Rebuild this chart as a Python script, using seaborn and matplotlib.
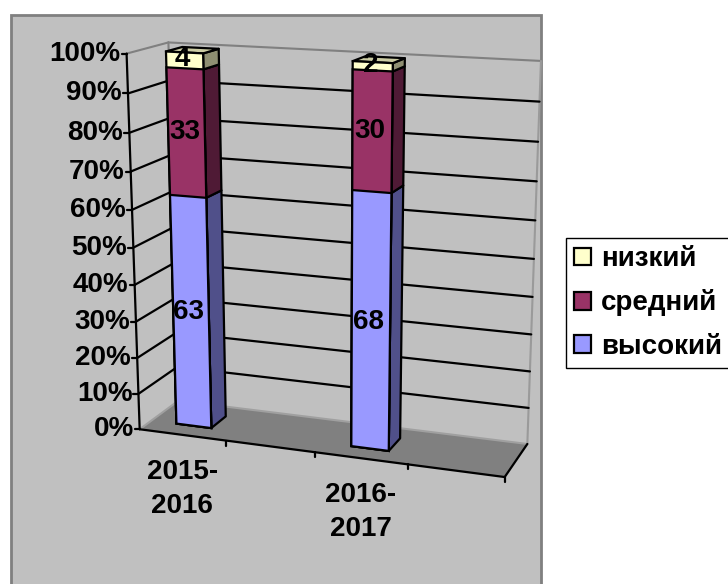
import numpy as np
import pandas as pd
import seaborn as sns
import matplotlib.pyplot as plt
from matplotlib.patches import Polygon, Rectangle
from matplotlib.transforms import Transform, IdentityTransform

periods = ['2015-\n2016', '2016-\n2017']
vysokiy = [63, 68]
sredniy = [33, 30]
nizkiy = [4, 2]
level_names = ['высокий', 'средний', 'низкий']
y_ticks = [0, 10, 20, 30, 40, 50, 60, 70, 80, 90, 100]

W, H = 728, 584
X0, X1 = -0.25, 1.755
BAR_Z0, BAR_Z1 = 0.3, 0.7
FONT = 20

# pixel positions of the box corners, used only to fit the fake 3d view
corners = [
    ((X0, 100, 0), (127, 54)), ((X0, 0, 0), (139, 428)), ((X1, 0, 0), (505, 478)),
    ((X1, 0, 1), (527, 443)), ((X1, 100, 1), (541, 61)), ((X0, 100, 1), (168, 42)),
    ((X0, 0, 1), (179, 402)),
]


def fit_view():
    a, b = [], []
    for (x, y, z), (u, v) in corners:
        a.append([x, y, z, 1, 0, 0, 0, 0, -u * x, -u * y, -u * z])
        b.append(u)
        a.append([0, 0, 0, 0, x, y, z, 1, -v * x, -v * y, -v * z])
        b.append(v)
    p = np.linalg.lstsq(np.array(a, float), np.array(b, float), rcond=None)[0]
    return np.append(p, 1).reshape(3, 4)


VIEW = fit_view()


def project(x, y, z):
    pts = np.column_stack([np.ravel(x), np.ravel(y), np.full(np.size(x), z) if np.isscalar(z) else np.ravel(z), np.ones(np.size(x))])
    q = pts @ VIEW.T
    return np.column_stack([q[:, 0] / q[:, 2], H - q[:, 1] / q[:, 2]])


class PlaneTransform(Transform):
    input_dims = 2
    output_dims = 2
    is_affine = False

    def __init__(self, z):
        super().__init__()
        self.z = z

    def transform_non_affine(self, values):
        values = np.asarray(values)
        return project(values[:, 0], values[:, 1], self.z)


def face(ax, pts, color, z=2, ec='black', lw=1.6):
    xyz = np.array(pts, float)
    ax.add_patch(Polygon(project(xyz[:, 0], xyz[:, 1], xyz[:, 2]), closed=True, facecolor=color, edgecolor=ec,
                         linewidth=lw, transform=IdentityTransform(), clip_on=False, zorder=z, joinstyle='round'))


def line(ax, a, b, color='black', lw=1.6, z=2):
    xyz = np.array([a, b], float)
    p = project(xyz[:, 0], xyz[:, 1], xyz[:, 2])
    ax.plot(p[:, 0], p[:, 1], color=color, lw=lw, transform=IdentityTransform(), clip_on=False, zorder=z,
            solid_capstyle='round')


def main():
    sns.set_style('white')
    plt.rcParams['font.family'] = ['Liberation Sans', 'DejaVu Sans']
    plt.rcParams['font.weight'] = 'bold'
    plt.rcParams['text.color'] = 'black'

    fig = plt.figure(figsize=(W / 100, H / 100), dpi=100)
    fig.patch.set_facecolor('white')
    ax = fig.add_axes([0, 0, 1, 1])
    ax.set_axis_off()

    # chart area
    fig.add_artist(Rectangle((10.5, -5), 530, H + 5 - 15, transform=IdentityTransform(), facecolor='#c0c0c0',
                             edgecolor='#808080', linewidth=2, zorder=-5))

    # floor and walls
    face(ax, [(X0, 0, 0), (X1, 0, 0), (X1, 0, 1), (X0, 0, 1)], '#808080', z=1, ec='none')
    line(ax, (X0, 0, 1), (X1, 0, 1), color='#a0a0a0', lw=1.5, z=1.5)
    line(ax, (X0, 100, 0), (X0, 100, 1), color='#808080', lw=1.5, z=1.5)
    line(ax, (X0, 100, 1), (X1, 100, 1), color='#808080', lw=1.5, z=1.5)
    line(ax, (X1, 100, 1), (X1, 0, 1), color='#9a9a9a', lw=1.5, z=1.5)
    line(ax, (X0, 100, 1), (X0, 0, 1), color='#808080', lw=1.5, z=1.5)
    line(ax, (X0, 0, 0), (X0, 0, 1), color='#a0a0a0', lw=1.5, z=1.5)
    for t in y_ticks[1:-1]:
        line(ax, (X0, t, 0), (X0, t, 1))
        line(ax, (X0, t, 1), (X1, t, 1))

    # axis lines and ticks
    line(ax, (X0, 0, 0), (X0, 100, 0), z=3)
    line(ax, (X0, 0, 0), (X1, 0, 0), z=3)
    line(ax, (X1, 0, 0), (X1, 0, 1), z=3)
    for t in y_ticks:
        p = project([X0], [t], 0)[0]
        ax.plot([p[0] - 5, p[0]], [p[1], p[1]], color='black', lw=1.6, transform=IdentityTransform(), clip_on=False, zorder=3)
        ax.text(p[0] - 6, p[1], f'{t}%', ha='right', va='center', fontsize=FONT, transform=IdentityTransform())
    for frac in [0.25, 0.5, 0.75, 1.0]:
        x = X0 + frac * (X1 - X0)
        p = project([x], [0], 0)[0]
        ax.plot([p[0], p[0]], [p[1], p[1] - 5], color='black', lw=1.6, transform=IdentityTransform(), clip_on=False, zorder=3)

    # stacked front faces, tallest first so the lower segments cover the rest
    low = np.array(vysokiy, float)
    mid = low + np.array(sredniy, float)
    top = mid + np.array(nizkiy, float)
    layers = [(top, '#ffffcc', level_names[2]), (mid, '#993366', level_names[1]), (low, '#9999ff', level_names[0])]
    for values, color, name in layers:
        df = pd.DataFrame({'period': periods, 'value': values})
        sns.barplot(data=df, x='period', y='value', color=color, saturation=1, width=0.205, edgecolor='black',
                    linewidth=1.6, label=name, ax=ax, legend=False)

    plane = PlaneTransform(BAR_Z0)
    bars = [p for p in ax.patches if isinstance(p, Rectangle)]
    for b in bars:
        b.set_transform(plane)
        b.set_clip_on(False)
        b.set_zorder(5)
    ax.set_axis_off()

    # side and top faces
    for i, b in enumerate(bars[:2]):
        xa = b.get_x()
        xb = xa + b.get_width()
        edges = [0, vysokiy[i], vysokiy[i] + sredniy[i], vysokiy[i] + sredniy[i] + nizkiy[i]]
        for lo, hi, c in zip(edges[:-1], edges[1:], ['#50508a', '#4f1a35', '#8f8f72']):
            face(ax, [(xb, lo, BAR_Z0), (xb, lo, BAR_Z1), (xb, hi, BAR_Z1), (xb, hi, BAR_Z0)], c, z=4)
        t = edges[-1]
        face(ax, [(xa, t, BAR_Z0), (xb, t, BAR_Z0), (xb, t, BAR_Z1), (xa, t, BAR_Z1)], '#cccca3', z=4)

        # value labels
        xc = (xa + xb) / 2
        for lo, hi in zip(edges[:-1], edges[1:]):
            p = project([xc], [(lo + hi) / 2], BAR_Z0)[0]
            ax.text(p[0] - 2, p[1] + 1, f'{hi - lo}', ha='center', va='center', fontsize=FONT, color='black',
                    transform=IdentityTransform(), zorder=7)

    # category labels
    for i, name in enumerate(periods):
        p = project([i], [0], 0)[0]
        ax.text(p[0], p[1] - 54, name, ha='center', va='center', fontsize=FONT, linespacing=1.42,
                transform=IdentityTransform(), zorder=7)

    # legend
    handles = [Rectangle((0, 0), 1, 1, facecolor=c, edgecolor='black', linewidth=1.6) for _, c, _ in layers]
    fig.legend(handles, [n for _, _, n in layers], loc='center left', bbox_to_anchor=(566 / W, 1 - 303 / H),
               frameon=True, fancybox=False, edgecolor='black', framealpha=1, fontsize=FONT, handlelength=0.6,
               handleheight=0.6, handletextpad=0.36, labelspacing=0.62, borderpad=0.3, borderaxespad=0)

    fig.savefig('out.png', dpi=100)


if __name__ == '__main__':
    main()
